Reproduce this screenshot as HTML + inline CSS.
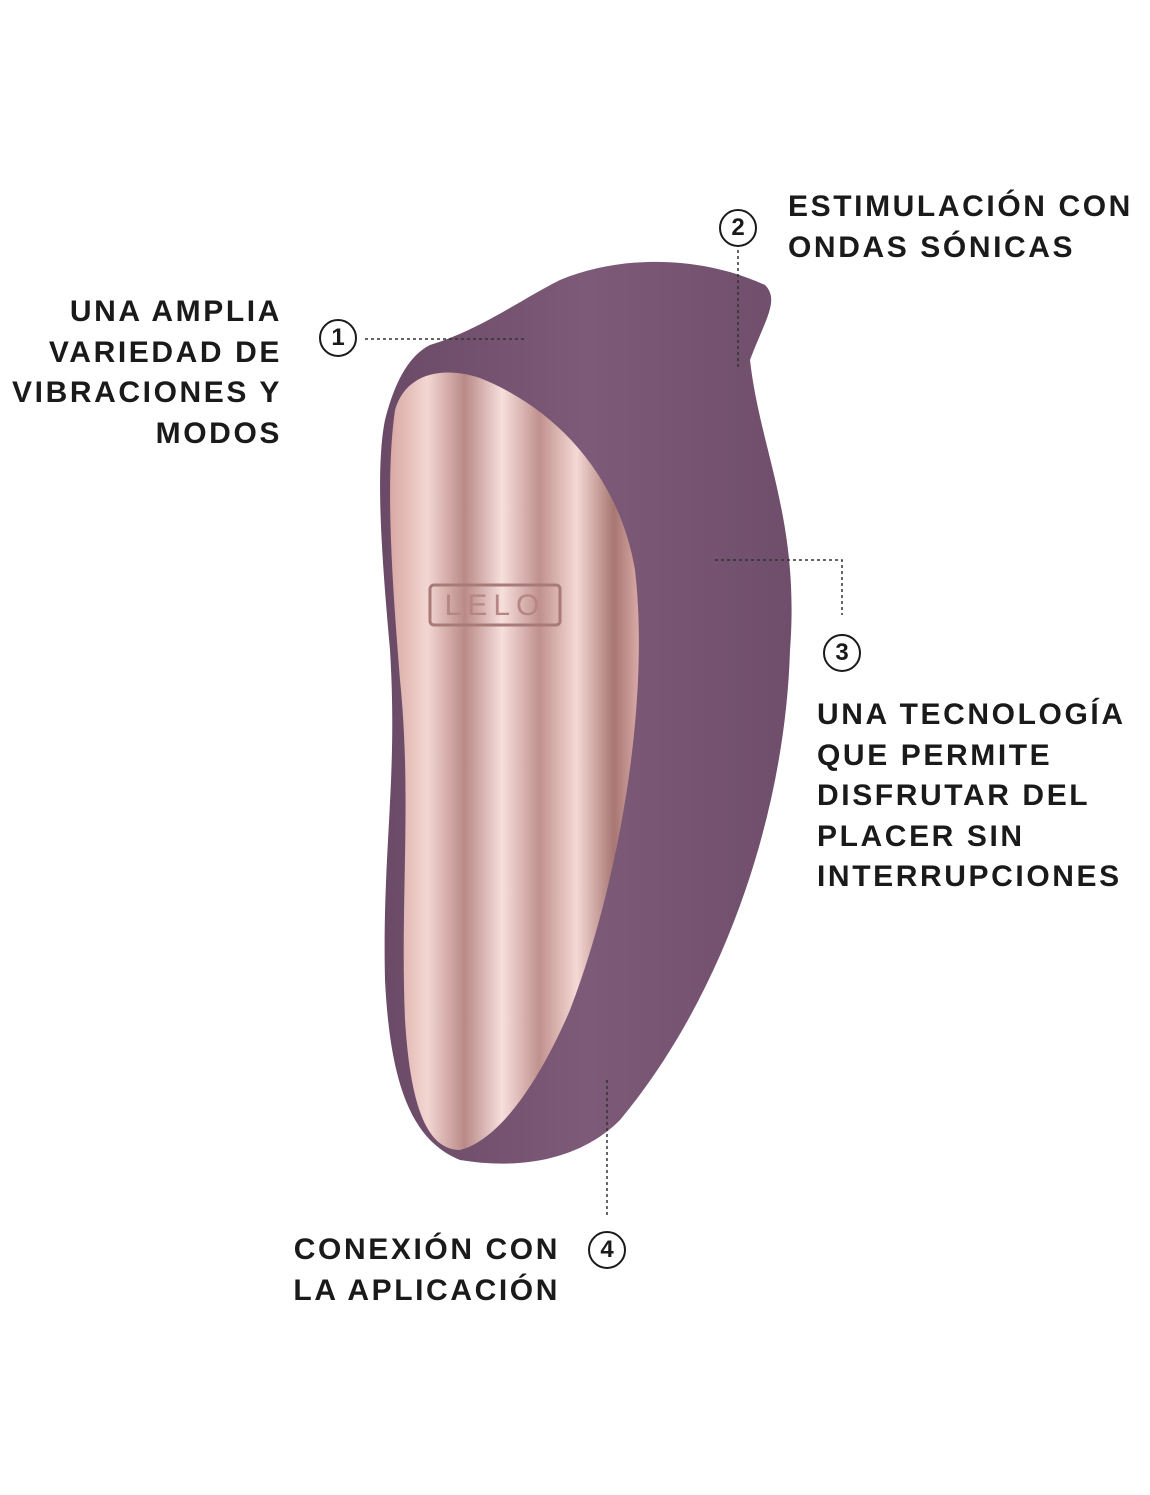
<!DOCTYPE html>
<html><head><style>
body{margin:0;width:1150px;height:1495px;background:#fff;position:relative;overflow:hidden;font-family:"Liberation Sans",sans-serif;}
.t{position:absolute;font-weight:bold;font-size:30px;line-height:40.5px;color:#1a1a1a;letter-spacing:2.6px;}
.c{position:absolute;width:38px;height:38px;border:2.5px solid #1a1a1a;border-radius:50%;box-sizing:border-box;text-align:center;line-height:33px;font-size:24px;font-weight:bold;color:#1a1a1a;}
</style></head><body>
<svg width="1150" height="1495" style="position:absolute;left:0;top:0">
<defs>
<linearGradient id="b" x1="0" y1="0" x2="1" y2="0"><stop offset="0" stop-color="#6a4a66"/><stop offset="0.5" stop-color="#7d5a78"/><stop offset="1" stop-color="#6f4e6b"/></linearGradient>
<linearGradient id="p" x1="0" y1="0" x2="1" y2="0">
<stop offset="0" stop-color="#d9a9a4"/><stop offset="0.15" stop-color="#f3d6d2"/><stop offset="0.3" stop-color="#b98a88"/><stop offset="0.45" stop-color="#f7dfdc"/><stop offset="0.6" stop-color="#c0918e"/><stop offset="0.75" stop-color="#f5d8d4"/><stop offset="0.9" stop-color="#a77672"/><stop offset="1" stop-color="#d9aaa6"/></linearGradient>
</defs>
<path d="M430,345 C480,330 520,300 560,280 C620,255 700,255 765,285 C780,300 765,320 750,360 C760,450 800,520 790,650 C785,820 720,1000 620,1120 C580,1160 520,1170 460,1160 C410,1140 390,1080 385,980 C382,850 398,780 390,650 C382,560 375,470 385,420 C395,380 410,355 430,345Z" fill="url(#b)"/>
<path d="M395,410 C405,375 440,365 480,378 C560,410 620,480 635,570 C650,700 620,880 570,1010 C540,1080 500,1140 460,1150 C425,1150 410,1100 405,1020 C400,900 412,800 400,680 C392,580 385,480 395,410Z" fill="url(#p)"/>
<rect x="430" y="585" width="130" height="40" rx="4" fill="none" stroke="#a97b78" stroke-width="3"/>
<text x="495" y="615" text-anchor="middle" font-family="Liberation Sans" font-size="30" fill="#b58683" letter-spacing="6">LELO</text>
<g stroke="#333" stroke-width="1.5" stroke-dasharray="3,3" fill="none">
<line x1="365" y1="339" x2="525" y2="339"/>
<line x1="738" y1="250" x2="738" y2="370"/>
<polyline points="715,560 842,560 842,615"/>
<line x1="607" y1="1080" x2="607" y2="1215"/>
</g>
</svg>
<div class="c" style="left:319px;top:319px">1</div>
<div class="c" style="left:719px;top:209px">2</div>
<div class="c" style="left:823px;top:634px">3</div>
<div class="c" style="left:588px;top:1231px">4</div>
<div class="t" style="right:868px;top:292px;text-align:right">UNA AMPLIA<br>VARIEDAD DE<br>VIBRACIONES Y<br>MODOS</div>
<div class="t" style="left:788px;top:187px">ESTIMULACIÓN CON<br>ONDAS SÓNICAS</div>
<div class="t" style="left:817px;top:695px">UNA TECNOLOGÍA<br>QUE PERMITE<br>DISFRUTAR DEL<br>PLACER SIN<br>INTERRUPCIONES</div>
<div class="t" style="right:590px;top:1230px;text-align:right">CONEXIÓN CON<br>LA APLICACIÓN</div>
</body></html>
